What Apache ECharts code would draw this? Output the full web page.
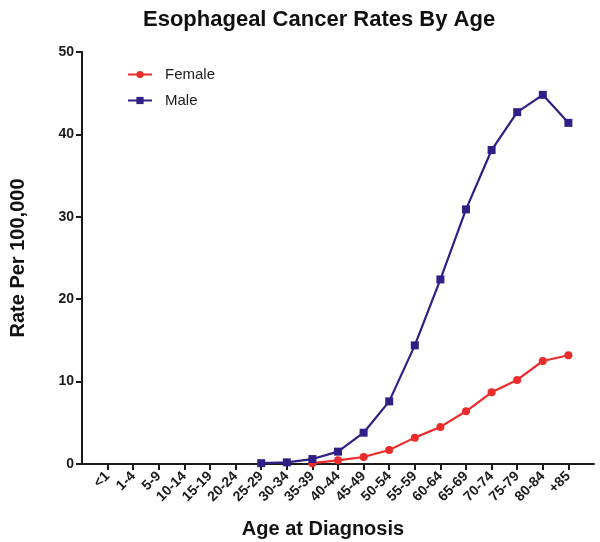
<!DOCTYPE html>
<html>
<head>
<meta charset="utf-8">
<script src="https://cdn.jsdelivr.net/npm/echarts@6/dist/echarts.min.js"></script>
<style>html,body{margin:0;padding:0;background:#fff}#c{width:600px;height:542px}</style>
</head>
<body>
<div id="c"></div>
<script>
var categories = ["<1","1-4","5-9","10-14","15-19","20-24","25-29","30-34","35-39","40-44","45-49","50-54","55-59","60-64","65-69","70-74","75-79","80-84","+85"];
var femaleValues = [null,null,null,null,null,null,null,null,0.1,0.45,0.85,1.7,3.2,4.5,6.4,8.7,10.2,12.5,13.2];
var maleValues = [null,null,null,null,null,null,0.1,0.2,0.6,1.5,3.8,7.6,14.4,22.4,30.9,38.1,42.7,44.8,41.4];

function pairs(arr){
  var out = [];
  arr.forEach(function(v,i){ if(v!==null) out.push([i,v]); });
  return out;
}
var idx = categories.map(function(_,i){return i;});
var font = 'Arial, "Liberation Sans", sans-serif';
var chart = echarts.init(document.getElementById('c'), null, {renderer:'canvas'});
chart.setOption({
  animation:false,
  backgroundColor:'#ffffff',
  title:{text:'Esophageal Cancer Rates By Age', left:138, top:4,
    textStyle:{fontFamily:font, fontSize:22, fontWeight:'bold', color:'#111'}},
  legend:{orient:'vertical', left:122, top:62, itemWidth:24, itemHeight:9, itemGap:11,
    textStyle:{fontFamily:font, fontSize:15, color:'#1a1a1a', padding:[0,0,0,8]},
    data:['Female','Male']},
  grid:{left:82, right:6, top:52, bottom:78, containLabel:false, outerBoundsMode:'none'},
  xAxis:{type:'value', min:-1, max:19, interval:1,
    axisLine:{show:true, onZero:false, lineStyle:{color:'#1a1a1a', width:2}},
    axisTick:{show:true, length:6, lineStyle:{color:'#1a1a1a', width:2}, customValues:idx},
    axisLabel:{rotate:45, fontFamily:font, fontSize:14, fontWeight:'bold', color:'#1a1a1a', margin:10,
      customValues:idx, formatter:function(v){return categories[Math.round(v)]||'';}},
    splitLine:{show:false},
    name:'Age at Diagnosis', nameLocation:'middle', nameGap:55,
    nameTextStyle:{fontFamily:font, fontSize:20, fontWeight:'bold', color:'#111', padding:[0,30,0,0]}},
  yAxis:{type:'value', min:0, max:50, interval:10,
    axisLine:{show:true, onZero:false, lineStyle:{color:'#1a1a1a', width:2}},
    axisTick:{show:true, length:6, lineStyle:{color:'#1a1a1a', width:2}},
    axisLabel:{fontFamily:font, fontSize:14, fontWeight:'bold', color:'#1a1a1a', margin:8},
    splitLine:{show:false},
    name:'Rate Per 100,000', nameLocation:'middle', nameGap:54,
    nameTextStyle:{fontFamily:font, fontSize:20, fontWeight:'bold', color:'#111'}},
  series:[
    {name:'Female', type:'line', data:pairs(femaleValues), symbol:'circle', symbolSize:8,
      lineStyle:{color:'#ec2b2b', width:2.2}, itemStyle:{color:'#ec2b2b'}},
    {name:'Male', type:'line', data:pairs(maleValues), symbol:'rect', symbolSize:8,
      lineStyle:{color:'#2f1f86', width:2.2}, itemStyle:{color:'#2f1f86'}}
  ]
});
</script>
</body>
</html>
